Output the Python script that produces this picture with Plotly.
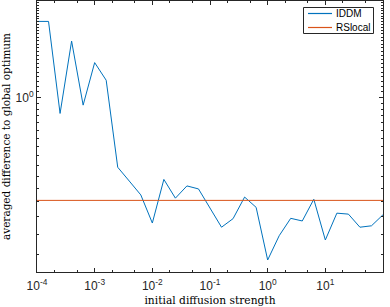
import numpy as np
import plotly.graph_objects as go

# x positions: log-spaced diffusion strengths (exponents)
x_exponents = [-4.0, -3.8, -3.6, -3.4, -3.2, -3.0, -2.8, -2.6, -2.4, -2.2, -2.0,
               -1.8, -1.6, -1.4, -1.2, -1.0, -0.8, -0.6, -0.4, -0.2, 0.0,
               0.2, 0.4, 0.6, 0.8, 1.0, 1.2, 1.4, 1.6, 1.8, 2.0]
iddm = [1.955, 1.955, 0.869, 1.644, 0.935, 1.360, 1.164, 0.541, 0.479, 0.424, 0.331,
        0.486, 0.412, 0.459, 0.447, 0.378, 0.319, 0.344, 0.416, 0.380, 0.239,
        0.296, 0.345, 0.337, 0.408, 0.285, 0.361, 0.358, 0.319, 0.323, 0.356]
rslocal_value = 0.404
series_names = ["IDDM", "RSlocal"]
series_colors = ["#0072BD", "#D95319"]

x_tick_exponents = [-4, -3, -2, -1, 0, 1, 2]
y_tick_exponents = [0]

x_vals = [10 ** e for e in x_exponents]
rs_x = [x_vals[0], x_vals[-1]]
rs_y = [rslocal_value, rslocal_value]

def tick_text(exps):
    return ["10<sup>%d</sup>" % e for e in exps]

fig = go.Figure()
fig.add_trace(go.Scatter(x=x_vals, y=iddm, mode="lines", name=series_names[0],
                         line=dict(color=series_colors[0], width=1)))
fig.add_trace(go.Scatter(x=rs_x, y=rs_y, mode="lines", name=series_names[1],
                         line=dict(color=series_colors[1], width=1)))

# plot-area geometry (pixels) used to place the compact MATLAB-style legend
W, H = 390, 307
ML, MR, MT, MB = 37, 7, 1, 35
pw, ph = W - ML - MR, H - MT - MB

def px(x):
    return (x - ML) / pw

def py(y):
    return (H - MB - y) / ph

shapes = [dict(type="rect", xref="paper", yref="paper",
               x0=px(303.5), x1=px(373.5), y0=py(33.5), y1=py(7.5),
               line=dict(color="#262626", width=1), fillcolor="white", layer="above")]
annotations = []
for i, (name, col) in enumerate(zip(series_names, series_colors)):
    yy = 13.5 + i * 14
    shapes.append(dict(type="line", xref="paper", yref="paper",
                       x0=px(308), x1=px(332), y0=py(yy), y1=py(yy),
                       line=dict(color=col, width=1.2), layer="above"))
    annotations.append(dict(xref="paper", yref="paper", x=px(334), y=py(yy),
                            xanchor="left", yanchor="middle", showarrow=False,
                            text=name,
                            font=dict(family="Liberation Sans, Arial", size=10, color="black")))

axis_common = dict(
    type="log", showgrid=False, zeroline=False, automargin=False,
    showline=True, linecolor="#262626", linewidth=1, mirror="ticks",
    ticks="inside", ticklen=4, tickcolor="#262626",
    tickfont=dict(family="Liberation Sans, Arial", size=12, color="#262626"),
    minor=dict(ticks="inside", ticklen=2, tickcolor="#262626", showgrid=False),
)

fig.update_layout(
    width=W, height=H,
    margin=dict(l=ML, r=MR, t=MT, b=MB),
    paper_bgcolor="white", plot_bgcolor="white",
    showlegend=False,
    shapes=shapes, annotations=annotations,
    xaxis=dict(axis_common, range=[-4, 2],
               tickmode="array",
               tickvals=[10 ** e for e in x_tick_exponents],
               ticktext=tick_text(x_tick_exponents),
               ticklabelstandoff=3,
               title=dict(text="initial diffusion strength",
                          font=dict(family="DejaVu Serif", size=10.7, color="black"),
                          standoff=6)),
    yaxis=dict(axis_common, range=[np.log10(0.215), np.log10(2.34)],
               tickmode="array",
               tickvals=[10 ** e for e in y_tick_exponents],
               ticktext=tick_text(y_tick_exponents),
               title=dict(text="averaged difference to global optimum",
                          font=dict(family="DejaVu Serif", size=10.5, color="black"),
                          standoff=2)),
)

fig.write_html("out.html", config={"displayModeBar": False},
               post_script="document.body.style.margin='0';document.body.style.padding='0';document.body.style.overflow='hidden';")
